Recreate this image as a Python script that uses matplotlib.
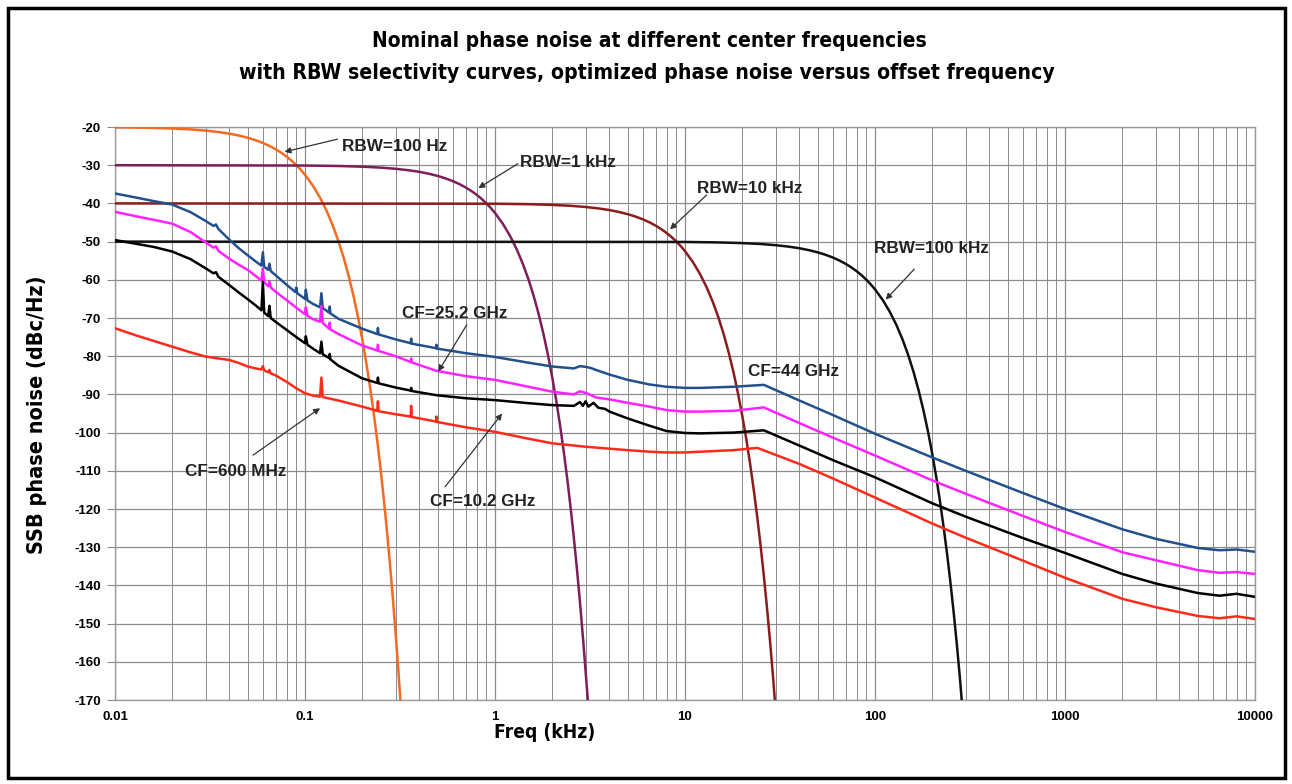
import os
import matplotlib
matplotlib.use("Agg")
import matplotlib.pyplot as plt
import matplotlib.font_manager as fm
from matplotlib.patches import Rectangle
from matplotlib.ticker import FixedLocator, NullFormatter, LogLocator

# ---------------- data ----------------
title_lines = ["Nominal phase noise at different center frequencies",
               "with RBW selectivity curves, optimized phase noise versus offset frequency"]
x_label = "Freq (kHz)"
y_label = "SSB phase noise (dBc/Hz)"
x_tick_values = [0.01, 0.1, 1, 10, 100, 1000, 10000]
x_tick_labels = ["0.01", "0.1", "1", "10", "100", "1000", "10000"]
y_tick_values = list(range(-170, -19, 10))

# RBW selectivity curves
rbw100_f = [0.01, 0.015, 0.02, 0.025, 0.03, 0.035, 0.04, 0.045, 0.05, 0.055, 0.06, 0.065,
            0.07, 0.075, 0.08, 0.085, 0.09, 0.095, 0.10, 0.11, 0.12, 0.13, 0.14, 0.15, 0.16,
            0.17, 0.18, 0.19, 0.20, 0.21, 0.22, 0.23, 0.24, 0.25, 0.26, 0.27, 0.28, 0.29,
            0.30, 0.31, 0.3176]
rbw100_db = [-20.09, -20.21, -20.39, -20.63, -20.94, -21.31, -21.74, -22.25, -22.82, -23.46,
             -24.17, -24.95, -25.81, -26.73, -27.74, -28.81, -29.97, -31.19, -32.5, -35.34,
             -38.5, -41.97, -45.77, -49.89, -54.33, -59.12, -64.23, -69.69, -75.48, -81.61,
             -88.10, -94.93, -102.10, -109.64, -117.52, -125.77, -134.37, -143.33, -152.65,
             -162.35, -170.0]

rbw1k_f = [0.01, 0.1, 0.15, 0.2, 0.25, 0.3, 0.35, 0.4, 0.45, 0.5, 0.55, 0.6, 0.65, 0.7,
           0.75, 0.8, 0.85, 0.9, 0.95, 1.0, 1.1, 1.2, 1.3, 1.4, 1.5, 1.6, 1.7, 1.8, 1.9,
           2.0, 2.1, 2.2, 2.3, 2.4, 2.5, 2.6, 2.7, 2.8, 2.9, 3.0, 3.08]
rbw1k_db = [-30.0, -30.09, -30.21, -30.39, -30.63, -30.94, -31.31, -31.74, -32.25, -32.82,
            -33.46, -34.17, -34.95, -35.81, -36.73, -37.74, -38.81, -39.97, -41.19, -42.5,
            -45.34, -48.5, -51.97, -55.77, -59.89, -64.33, -69.12, -74.23, -79.69, -85.48,
            -91.61, -98.10, -104.93, -112.10, -119.64, -127.52, -135.77, -144.37, -153.33,
            -162.65, -170.0]

rbw10k_f = [0.01, 1, 1.5, 2, 2.5, 3, 3.5, 4, 4.5, 5, 5.5, 6, 6.5, 7, 7.5, 8, 8.5, 9, 9.5,
            10, 11, 12, 13, 14, 15, 16, 17, 18, 19, 20, 21, 22, 23, 24, 25, 26, 27, 28,
            29, 29.7]
rbw10k_db = [-40.0, -40.09, -40.21, -40.39, -40.63, -40.94, -41.31, -41.74, -42.25, -42.82,
             -43.46, -44.17, -44.95, -45.81, -46.73, -47.74, -48.81, -49.97, -51.19, -52.5,
             -55.34, -58.5, -61.97, -65.77, -69.89, -74.33, -79.12, -84.23, -89.69, -95.48,
             -101.61, -108.10, -114.93, -122.10, -129.64, -137.52, -145.77, -154.37,
             -163.33, -170.0]

rbw100k_f = [0.01, 10, 15, 20, 25, 30, 35, 40, 45, 50, 55, 60, 65, 70, 75, 80, 85, 90, 95,
             100, 110, 120, 130, 140, 150, 160, 170, 180, 190, 200, 210, 220, 230, 240,
             250, 260, 270, 280, 286]
rbw100k_db = [-50.0, -50.09, -50.21, -50.39, -50.63, -50.94, -51.31, -51.74, -52.25, -52.82,
              -53.46, -54.17, -54.95, -55.81, -56.73, -57.74, -58.81, -59.97, -61.19, -62.5,
              -65.34, -68.5, -71.97, -75.77, -79.89, -84.33, -89.12, -94.23, -99.69, -105.48,
              -111.61, -118.10, -124.93, -132.10, -139.64, -147.52, -155.77, -164.37, -170.0]

# Phase noise curves
cf44_f = [0.01, 0.013, 0.016, 0.02, 0.025, 0.03, 0.033, 0.034, 0.035, 0.04, 0.045, 0.05,
          0.055, 0.059, 0.06, 0.061, 0.064, 0.065, 0.066, 0.07, 0.08, 0.089, 0.09, 0.091,
          0.1, 0.101, 0.103, 0.11, 0.12, 0.122, 0.124, 0.134, 0.135, 0.136, 0.15, 0.2,
          0.24, 0.242, 0.244, 0.3, 0.36, 0.362, 0.364, 0.49, 0.492, 0.494, 0.7, 1.0, 1.5,
          2.0, 2.6, 2.8, 3.0, 3.2, 3.4, 4.0, 5.0, 6.5, 8.0, 10, 12, 18, 26, 40, 60, 100,
          200, 300, 600, 1000, 2000, 3000, 5000, 6500, 8000, 10000]
cf44_db = [-37.4, -38.5, -39.4, -40.3, -42.3, -44.6, -45.9, -45.5, -46.7, -49.5, -51.8,
           -53.6, -55.2, -56.3, -52.8, -56.6, -57.4, -55.8, -57.7, -58.8, -61.3, -63.2,
           -62.0, -63.5, -65.0, -62.6, -65.4, -66.3, -67.2, -63.5, -67.4, -68.6, -67.0,
           -68.8, -70.2, -72.8, -74.2, -72.6, -74.3, -75.6, -76.6, -75.4, -76.7, -77.9,
           -77.0, -78.0, -79.2, -80.2, -81.7, -82.7, -83.2, -82.6, -82.8, -83.1, -83.6,
           -84.8, -86.2, -87.4, -88.0, -88.3, -88.3, -88.0, -87.5, -91.6, -95.4, -100.3,
           -106.5, -110.0, -115.8, -120.0, -125.3, -127.8, -130.2, -130.8, -130.6, -131.2]

cf25_f = [0.01, 0.013, 0.016, 0.02, 0.025, 0.03, 0.033, 0.034, 0.035, 0.04, 0.045, 0.05,
          0.055, 0.059, 0.06, 0.061, 0.064, 0.065, 0.066, 0.07, 0.08, 0.09, 0.1, 0.101,
          0.103, 0.11, 0.12, 0.122, 0.124, 0.134, 0.135, 0.136, 0.15, 0.2, 0.24, 0.242,
          0.244, 0.3, 0.36, 0.362, 0.364, 0.49, 0.7, 1.0, 1.5, 2.0, 2.6, 2.8, 3.0, 3.2,
          3.4, 4.0, 5.0, 6.5, 8.0, 10, 12, 18, 26, 40, 60, 100, 200, 300, 600, 1000, 2000,
          3000, 5000, 6500, 8000, 10000]
cf25_db = [-42.2, -43.4, -44.3, -45.3, -47.5, -50.2, -51.6, -51.2, -52.4, -54.5, -56.1,
           -57.4, -59.0, -60.2, -57.0, -60.6, -61.7, -60.4, -62.0, -63.1, -65.3, -67.3,
           -69.0, -67.2, -69.4, -70.3, -71.0, -66.8, -71.3, -72.8, -71.2, -73.0, -74.2,
           -77.2, -78.5, -77.0, -78.6, -80.0, -81.5, -80.6, -81.6, -83.8, -85.2, -86.2,
           -88.0, -89.3, -90.0, -89.2, -89.6, -90.2, -90.8, -91.3, -92.2, -93.2, -94.1,
           -94.5, -94.5, -94.3, -93.4, -97.5, -101.3, -106.0, -112.5, -116.0, -121.8,
           -126.0, -131.3, -133.4, -136.0, -136.7, -136.5, -137.0]

cf10_f = [0.01, 0.013, 0.016, 0.02, 0.025, 0.03, 0.033, 0.034, 0.035, 0.04, 0.045, 0.05,
          0.055, 0.059, 0.06, 0.061, 0.064, 0.065, 0.066, 0.07, 0.08, 0.09, 0.1, 0.101,
          0.103, 0.11, 0.12, 0.122, 0.124, 0.134, 0.135, 0.136, 0.15, 0.2, 0.24, 0.242,
          0.244, 0.3, 0.36, 0.362, 0.364, 0.49, 0.7, 1.0, 1.5, 2.0, 2.6, 2.8, 2.9, 3.0,
          3.1, 3.3, 3.5, 3.8, 4.0, 5.0, 6.5, 8.0, 10, 12, 18, 26, 40, 60, 100, 200, 300,
          600, 1000, 2000, 3000, 5000, 6500, 8000, 10000]
cf10_db = [-49.6, -50.6, -51.4, -52.6, -54.6, -57.0, -58.3, -58.0, -59.2, -61.4, -63.4,
           -65.1, -66.7, -68.0, -60.5, -68.6, -69.5, -66.8, -70.0, -71.0, -73.1, -75.0,
           -76.6, -74.8, -77.0, -78.0, -79.2, -76.2, -79.5, -80.5, -79.4, -80.8, -82.5,
           -85.8, -87.0, -85.6, -87.1, -88.2, -89.0, -88.3, -89.1, -90.2, -91.0, -91.5,
           -92.3, -92.8, -93.0, -92.0, -93.0, -91.8, -93.2, -92.2, -93.5, -93.8, -94.5,
           -96.3, -98.2, -99.6, -100.1, -100.2, -100.0, -99.4, -103.4, -107.2, -111.7,
           -118.5, -122.0, -127.6, -131.5, -137.0, -139.5, -142.0, -142.7, -142.2, -143.0]

cf600_f = [0.01, 0.013, 0.016, 0.02, 0.025, 0.03, 0.035, 0.04, 0.045, 0.05, 0.055, 0.059,
           0.06, 0.061, 0.064, 0.065, 0.066, 0.07, 0.08, 0.09, 0.1, 0.11, 0.12, 0.122,
           0.124, 0.15, 0.2, 0.24, 0.242, 0.244, 0.3, 0.36, 0.362, 0.364, 0.49, 0.492,
           0.494, 0.7, 0.86, 1.0, 1.5, 2.0, 3.0, 5.0, 6.5, 8.0, 10, 12, 18, 24, 40, 60,
           100, 200, 300, 600, 1000, 2000, 3000, 5000, 6500, 8000, 10000]
cf600_db = [-72.7, -74.6, -76.0, -77.5, -79.0, -80.1, -80.6, -81.0, -81.8, -82.7, -83.2,
            -83.5, -82.6, -83.7, -84.2, -83.6, -84.5, -85.0, -86.7, -88.4, -89.7, -90.3,
            -90.6, -85.6, -90.7, -91.6, -93.2, -94.3, -91.8, -94.4, -95.2, -95.8, -93.0,
            -95.9, -97.1, -95.8, -97.2, -98.6, -99.3, -99.8, -101.6, -102.8, -103.7, -104.6,
            -105.0, -105.2, -105.2, -105.0, -104.6, -104.0, -108.2, -112.0, -117.0, -123.8,
            -127.5, -133.5, -138.0, -143.5, -145.7, -148.0, -148.6, -148.1, -148.8]

# annotations: text, arrow tip (f, dB), arrow tail (f, dB), text left-centre anchor (f, dB)
ann_texts = ["RBW=100 Hz", "RBW=1 kHz", "RBW=10 kHz", "RBW=100 kHz",
             "CF=25.2 GHz", "CF=10.2 GHz", "CF=600 MHz", "CF=44 GHz"]
ann_tip_f = [0.078, 0.817, 8.34, 113.8, 0.503, 1.09, 0.12, None]
ann_tip_db = [-26.5, -36.0, -46.8, -65.2, -84.0, -95.0, -93.6, None]
ann_tail_f = [0.148, 1.32, 13.0, 161.0, 0.71, 0.546, 0.0533, None]
ann_tail_db = [-23.2, -29.6, -37.8, -57.2, -71.8, -114.2, -105.9, None]
ann_text_f = [0.156, 1.354, 11.5, 98.4, 0.323, 0.455, 0.0234, 21.5]
ann_text_db = [-25.0, -29.2, -36.0, -51.8, -68.9, -118.0, -110.2, -84.0]

# ---------------- fonts ----------------
def find_font_file(patterns):
    files = [f.fname for f in fm.fontManager.ttflist]
    for pat in patterns:
        for fn in files:
            b = os.path.basename(fn).lower().replace(" ", "").replace("_", "")
            if pat in b:
                return fn
    for fn in files:
        b = os.path.basename(fn).lower()
        if ("condensed" in b or "narrow" in b) and "bold" in b and "extra" not in b \
                and "semi" not in b and "italic" not in b and "oblique" not in b \
                and "mono" not in b and "serif" not in b and "black" not in b:
            return fn
    return None

narrow_file = find_font_file(["liberationsansnarrow-bold.", "arialnarrowbold", "arialnb.",
                              "dejavusanscondensed-bold.", "notosans-condensedbold.",
                              "robotocondensed-bold.", "opensanscondensed-bold.",
                              "opensans-condensedbold."])
if narrow_file:
    narrow_fp = fm.FontProperties(fname=narrow_file)
else:
    narrow_fp = fm.FontProperties(family="DejaVu Sans", weight="bold")
arial = ["Liberation Sans", "DejaVu Sans"]

# ---------------- drawing ----------------
W, H = 1292, 784
fig = plt.figure(figsize=(W / 100, H / 100), dpi=100)
fig.patch.set_facecolor("white")

ax = fig.add_axes([115 / W, 1 - 700 / H, (1255 - 115) / W, (700 - 127) / H])
ax.set_xscale("log")
ax.set_xlim(0.01, 10000)
ax.set_ylim(-170, -20)

grid_col = "#8c8c8c"
ax.set_yticks(y_tick_values)
ax.set_yticklabels([str(v) for v in y_tick_values])
ax.xaxis.set_major_locator(FixedLocator(x_tick_values))
ax.set_xticklabels(x_tick_labels)
ax.xaxis.set_minor_locator(LogLocator(base=10, subs=range(2, 10), numticks=100))
ax.xaxis.set_minor_formatter(NullFormatter())
ax.grid(True, which="major", axis="both", color=grid_col, lw=0.9)
ax.grid(True, which="minor", axis="x", color=grid_col, lw=0.7)
ax.set_axisbelow(True)
for s in ax.spines.values():
    s.set_color("#9a9a9a")
    s.set_linewidth(1.0)
ax.tick_params(axis="y", which="major", length=6, color=grid_col, direction="out", pad=4)
ax.tick_params(axis="x", which="both", length=0, pad=8)
for lab in ax.get_xticklabels() + ax.get_yticklabels():
    lab.set_fontfamily(arial)
    lab.set_fontweight("bold")
    lab.set_fontsize(9.5)

lw = 1.8
ax.plot(rbw100_f, rbw100_db, color="#f26b21", lw=lw, zorder=3)
ax.plot(rbw1k_f, rbw1k_db, color="#7b1e5a", lw=lw, zorder=3)
ax.plot(rbw10k_f, rbw10k_db, color="#8a1c1c", lw=lw, zorder=3)
ax.plot(rbw100k_f, rbw100k_db, color="#111111", lw=lw, zorder=3)

ax.plot(cf44_f, cf44_db, color="#22508c", lw=lw, zorder=4)
ax.plot(cf25_f, cf25_db, color="#ff22ff", lw=lw, zorder=4)
ax.plot(cf10_f, cf10_db, color="#000000", lw=lw, zorder=4)
ax.plot(cf600_f, cf600_db, color="#ff2a1a", lw=lw, zorder=4)

for i, t in enumerate(ann_texts):
    ax.text(ann_text_f[i], ann_text_db[i], t, fontfamily=arial, fontweight="bold",
            fontsize=12.3, color="#222222", ha="left", va="center", zorder=6)
    if ann_tip_f[i] is not None:
        ax.annotate("", xy=(ann_tip_f[i], ann_tip_db[i]),
                    xytext=(ann_tail_f[i], ann_tail_db[i]),
                    arrowprops=dict(arrowstyle="-|>", color="#333333", lw=0.9,
                                    mutation_scale=9, shrinkA=0, shrinkB=0),
                    zorder=6)

# text with a condensed bold face, sized to the reference widths
renderer = fig.canvas.get_renderer()

def fitted_text(x_px, y_px, s, target_px, rotation=0):
    t = fig.text(x_px / W, 1 - y_px / H, s, ha="center", va="center",
                 fontproperties=narrow_fp.copy(), rotation=rotation)
    t.set_fontsize(14)
    bb = t.get_window_extent(renderer)
    span = bb.height if rotation else bb.width
    if span > 0:
        t.set_fontsize(14 * target_px / span)
    return t

fitted_text(649, 41, title_lines[0], 556)
fitted_text(647, 73, title_lines[1], 816)
fitted_text(37, 415, y_label, 280, rotation=90)
fitted_text(545, 733, x_label, 101)

fig.patches.append(Rectangle((8 / W, 6 / H), (1285 - 8) / W, (778 - 8) / H,
                             transform=fig.transFigure, fill=False,
                             edgecolor="black", lw=2.5))

fig.savefig("out.png", dpi=100)
